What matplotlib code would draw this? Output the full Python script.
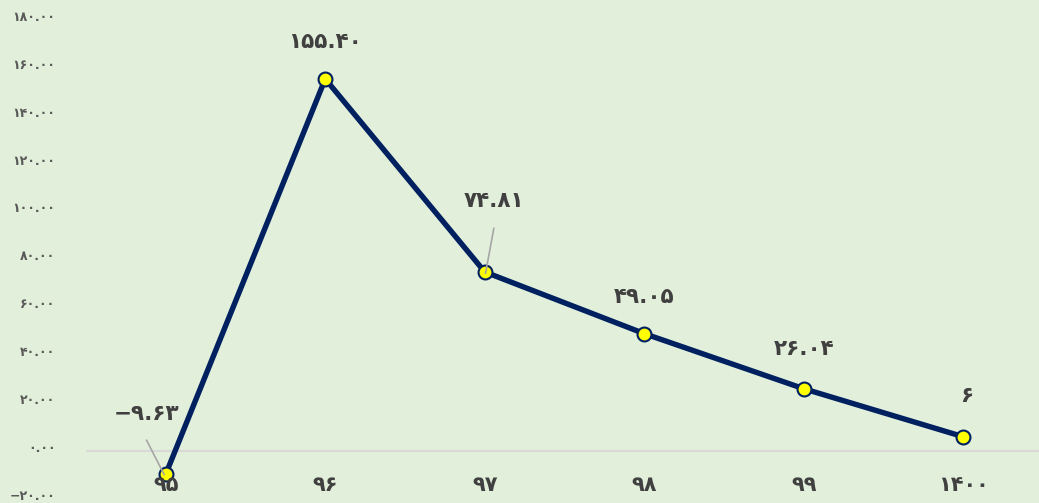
import matplotlib.pyplot as plt
import matplotlib.transforms as mtransforms
from matplotlib.lines import Line2D

years = ["۹۵", "۹۶", "۹۷", "۹۸", "۹۹", "۱۴۰۰"]
values = [-9.63, 155.40, 74.81, 49.05, 26.04, 6]
value_labels = ["−۹.۶۳", "۱۵۵.۴۰", "۷۴.۸۱", "۴۹.۰۵", "۲۶.۰۴", "۶"]
yticks = [-20, 0, 20, 40, 60, 80, 100, 120, 140, 160, 180]

def fa_digits(s):
    return s.translate(str.maketrans("0123456789", "۰۱۲۳۴۵۶۷۸۹"))

ytick_labels = [fa_digits(f"{v:.2f}").replace("-", "−") for v in yticks]

bg = "#E2EFDA"
navy = "#002060"

plt.rcParams["font.family"] = ["DejaVu Sans"]

fig = plt.figure(figsize=(10.39, 5.03), dpi=100, facecolor=bg)
ax = fig.add_axes([86 / 1039, 4 / 503, 957 / 1039, 479 / 503], facecolor=bg)

x = list(range(len(values)))
ax.set_xlim(-0.5, 5.5)
ax.set_ylim(-20, 180)

ax.axhline(0, color="#D9D9D9", lw=1.5, zorder=1)
ax.plot(x, values, color=navy, lw=3.9, marker="o", ms=10,
        mfc="#FFFF00", mec=navy, mew=1.5, zorder=3)

for s in ax.spines.values():
    s.set_visible(False)
ax.set_xticks([])
ax.set_yticks(yticks)
ax.set_yticklabels(ytick_labels, fontsize=9, fontweight="bold", color="#595959")
ax.tick_params(axis="y", length=0, pad=22)
shift = mtransforms.ScaledTranslation(0, 3 / 72, fig.dpi_scale_trans)
for lab in ax.get_yticklabels():
    lab.set_transform(lab.get_transform() + shift)

# category labels sit just under the zero line
for xi, lab in zip(x, years):
    ax.text(xi, -14.0, lab, ha="center", va="center", fontsize=15,
            fontweight="bold", color="#404040")

# data labels (offsets in data units)
offsets = [(-0.12, 25.0), (0.0, 15.5), (0.06, 29.5), (0.0, 15.5), (0.0, 16.5), (0.02, 16.8)]
for xi, v, lab, (dx, dy) in zip(x, values, value_labels, offsets):
    ax.text(xi + dx, v + dy, lab, ha="center", va="center", fontsize=15.5,
            fontweight="bold", color="#404040")

# leader lines
ax.add_line(Line2D([-0.12, -0.01], [4.5, -9.8], color="#A6A6A6", lw=1.2, zorder=4))
ax.add_line(Line2D([2.057, 2.005], [93.0, 74.3], color="#A6A6A6", lw=1.2, zorder=4))

fig.savefig("out.png", dpi=100, facecolor=bg)
